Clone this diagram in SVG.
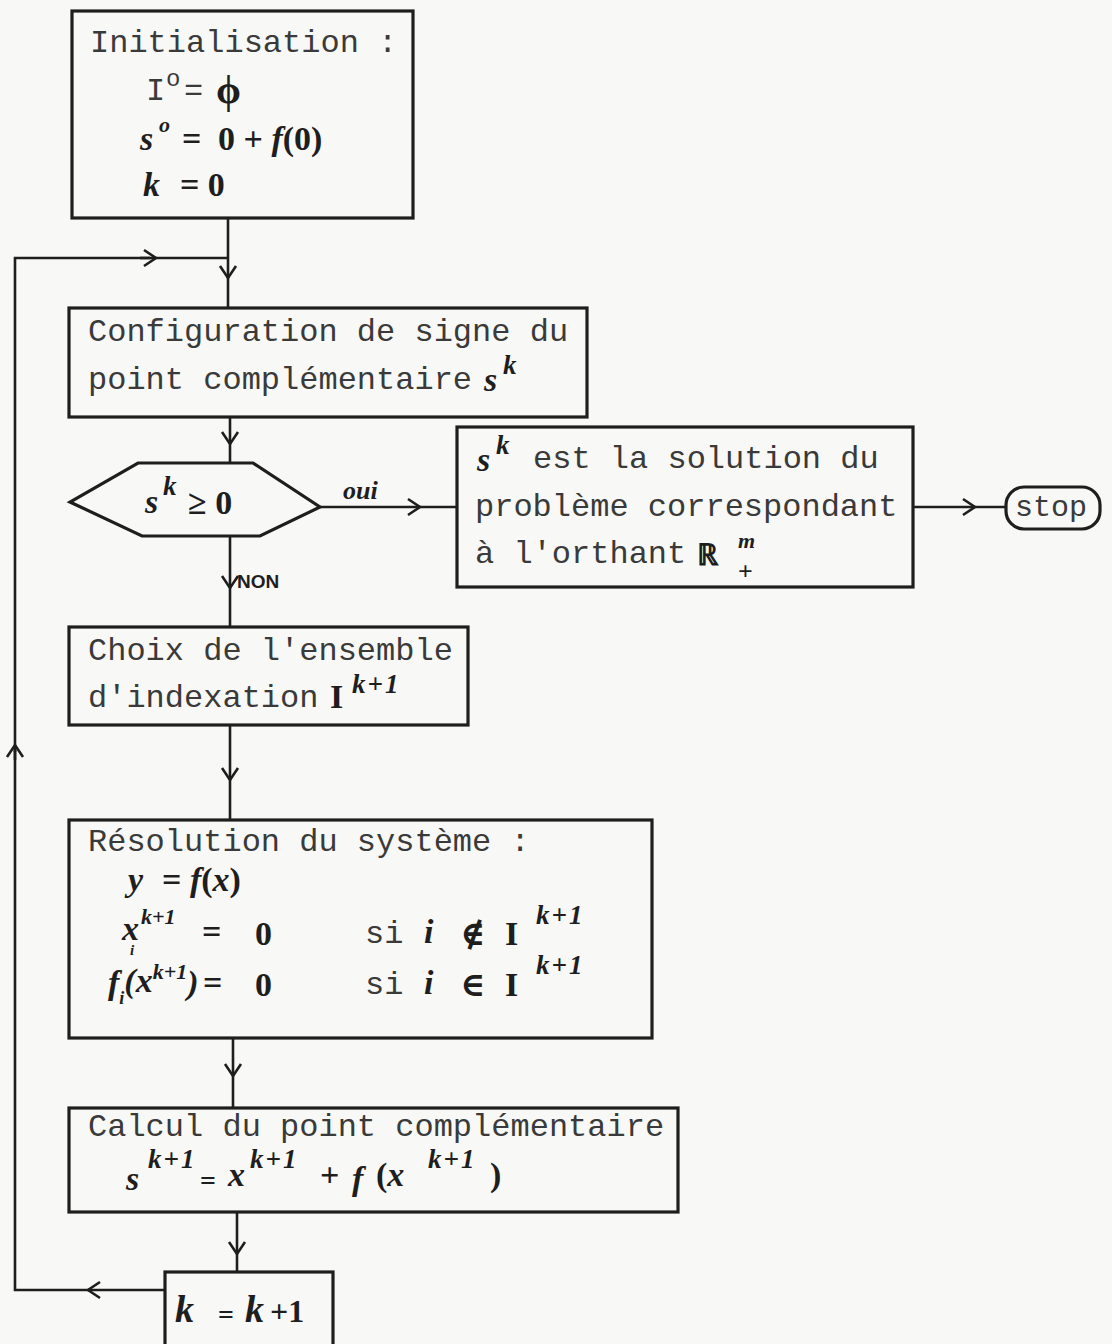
<svg xmlns="http://www.w3.org/2000/svg" width="1112" height="1344" viewBox="0 0 1112 1344">
<defs>
<style>
.box{fill:none;stroke:#1e1e1e;stroke-width:3.2}
.ln{fill:none;stroke:#1e1e1e;stroke-width:2.6}
.tw{font-family:"Liberation Mono","Courier New",monospace;font-size:32px;fill:#3a3a3a}
.hw{font-family:"Liberation Serif","DejaVu Serif",serif;font-style:italic;font-weight:bold;font-size:34px;fill:#1e1e1e}
.hs{font-family:"Liberation Serif","DejaVu Serif",serif;font-style:italic;font-weight:bold;font-size:22px;fill:#1e1e1e}
.hb{font-family:"Liberation Serif","DejaVu Serif",serif;font-style:italic;font-weight:bold;font-size:27px;letter-spacing:2px;fill:#1e1e1e}
.up{font-family:"Liberation Serif","DejaVu Serif",serif;font-weight:bold;font-size:34px;fill:#1e1e1e}
</style>
<marker id="ah" viewBox="0 0 20 20" refX="14" refY="10" markerWidth="20" markerHeight="20" markerUnits="userSpaceOnUse" orient="auto">
<path d="M2,2 L14,10 L2,18" fill="none" stroke="#1e1e1e" stroke-width="2.6"/>
</marker>
</defs>
<rect width="1112" height="1344" fill="#f8f8f6"/>

<g id="connectors">
<line class="ln" x1="228" y1="218" x2="228" y2="278" marker-end="url(#ah)"/>
<line class="ln" x1="228" y1="276" x2="228" y2="308"/>
<line class="ln" x1="230" y1="417" x2="230" y2="444" marker-end="url(#ah)"/>
<line class="ln" x1="230" y1="442" x2="230" y2="463"/>
<line class="ln" x1="320" y1="507" x2="420" y2="507" marker-end="url(#ah)"/>
<line class="ln" x1="418" y1="507" x2="457" y2="507"/>
<line class="ln" x1="230" y1="536" x2="230" y2="588" marker-end="url(#ah)"/>
<line class="ln" x1="230" y1="586" x2="230" y2="627"/>
<line class="ln" x1="913" y1="507" x2="975" y2="507" marker-end="url(#ah)"/>
<line class="ln" x1="973" y1="507" x2="1006" y2="507"/>
<line class="ln" x1="230" y1="725" x2="230" y2="780" marker-end="url(#ah)"/>
<line class="ln" x1="230" y1="778" x2="230" y2="820"/>
<line class="ln" x1="233" y1="1038" x2="233" y2="1076" marker-end="url(#ah)"/>
<line class="ln" x1="233" y1="1074" x2="233" y2="1108"/>
<line class="ln" x1="237" y1="1212" x2="237" y2="1254" marker-end="url(#ah)"/>
<line class="ln" x1="237" y1="1252" x2="237" y2="1272"/>
<line class="ln" x1="165" y1="1290" x2="88" y2="1290" marker-end="url(#ah)"/>
<polyline class="ln" points="90,1290 15,1290 15,750"/>
<line class="ln" x1="15" y1="760" x2="15" y2="745" marker-end="url(#ah)"/>
<polyline class="ln" points="15,752 15,258 150,258"/>
<line class="ln" x1="140" y1="258" x2="156" y2="258" marker-end="url(#ah)"/>
<line class="ln" x1="154" y1="258" x2="228" y2="258"/>
<text x="343" y="499" class="hw" style="font-size:26px">oui</text>
<text x="237" y="588" style="font-family:'Liberation Sans',Arial,sans-serif;font-weight:bold;font-size:19px;fill:#1e1e1e">NON</text>
</g>

<g id="n-init">
<rect class="box" x="72" y="11" width="341" height="207"/>
<text x="90" y="52" class="tw">Initialisation :</text>
<text x="146" y="100" class="tw">I</text>
<text x="166" y="86" class="tw" style="font-size:24px">o</text>
<text x="184" y="100" class="tw">=</text>
<text x="216" y="103" class="up" style="font-size:40px">ϕ</text>
<text x="140" y="150" class="hw">s</text>
<text x="159" y="132" class="hw" style="font-size:22px">o</text>
<text x="182" y="150" class="up">=</text>
<text x="218" y="150" class="up">0 + <tspan class="hw">f</tspan>(0)</text>
<text x="143" y="196" class="hw">k</text>
<text x="180" y="196" class="up">= 0</text>
</g>

<g id="n-config">
<rect class="box" x="69" y="308" width="518" height="109"/>
<text x="88" y="341" class="tw">Configuration de signe du</text>
<text x="88" y="389" class="tw">point complémentaire</text>
<text x="484" y="391" class="hw">s</text>
<text x="503" y="374" class="hb">k</text>
</g>

<g id="n-test">
<polygon class="box" points="138,463 253,463 320,507 260,536 142,536 70,502"/>
<text x="145" y="513" class="hw">s</text>
<text x="163" y="495" class="hb">k</text>
<text x="188" y="514" class="up">≥ 0</text>
</g>

<g id="n-solution">
<rect class="box" x="457" y="427" width="456" height="160"/>
<text x="477" y="471" class="hw">s</text>
<text x="496" y="454" class="hb">k</text>
<text x="533" y="468" class="tw">est la solution du</text>
<text x="475" y="516" class="tw">problème correspondant</text>
<text x="475" y="563" class="tw">à l'orthant</text>
<text x="697" y="565" class="up" style="font-size:30px">ℝ</text>
<text x="738" y="548" class="hs">m</text>
<text x="738" y="580" class="up" style="font-size:26px">+</text>
</g>

<g id="n-stop">
<rect class="box" x="1006" y="487" width="94" height="42" rx="18" ry="18"/>
<text x="1015" y="516" class="tw" style="font-size:30px">stop</text>
</g>

<g id="n-choix">
<rect class="box" x="69" y="627" width="399" height="98"/>
<text x="88" y="660" class="tw">Choix de l'ensemble</text>
<text x="88" y="707" class="tw">d'indexation</text>
<text x="330" y="708" class="up">I</text>
<text x="352" y="693" class="hb">k+1</text>
</g>

<g id="n-resol">
<rect class="box" x="69" y="820" width="583" height="218"/>
<text x="88" y="851" class="tw">Résolution du système :</text>
<text x="128" y="891" class="hw">y</text>
<text x="162" y="891" class="up">= <tspan class="hw">f</tspan>(<tspan class="hw">x</tspan>)</text>
<text x="122" y="940" class="hw">x<tspan class="hs" dx="2" dy="-16">k+1</tspan><tspan class="hs" style="font-size:15px" x="130" dy="31">i</tspan></text>
<text x="202" y="943" class="up">=</text>
<text x="255" y="945" class="up">0</text>
<text x="365" y="943" class="tw">si</text>
<text x="424" y="943" class="hw">i</text>
<text x="460" y="945" class="up">∉</text>
<text x="505" y="945" class="up">I</text>
<text x="536" y="924" class="hb">k+1</text>
<text x="108" y="994" class="hw">f<tspan class="hs" style="font-size:18px" dy="10">i</tspan><tspan class="up" dy="-12">(</tspan><tspan>x</tspan><tspan class="hs" dy="-13">k+1</tspan><tspan class="up" dy="15">)</tspan></text>
<text x="203" y="994" class="up">=</text>
<text x="255" y="996" class="up">0</text>
<text x="365" y="994" class="tw">si</text>
<text x="424" y="994" class="hw">i</text>
<text x="460" y="996" class="up">∈</text>
<text x="505" y="996" class="up">I</text>
<text x="536" y="974" class="hb">k+1</text>
</g>

<g id="n-calcul">
<rect class="box" x="69" y="1108" width="609" height="104"/>
<text x="88" y="1136" class="tw">Calcul du point complémentaire</text>
<text x="126" y="1190" class="hw">s</text>
<text x="148" y="1168" class="hb">k+1</text>
<text x="200" y="1190" class="up" style="font-size:28px">=</text>
<text x="228" y="1186" class="hw">x</text>
<text x="250" y="1168" class="hb">k+1</text>
<text x="320" y="1186" class="up">+</text>
<text x="352" y="1190" class="hw">f</text>
<text x="376" y="1186" class="up">(<tspan class="hw">x</tspan></text>
<text x="428" y="1168" class="hb">k+1</text>
<text x="490" y="1186" class="up">)</text>
</g>

<g id="n-incr">
<rect class="box" x="165" y="1272" width="168" height="80"/>
<text x="175" y="1322" class="hw" style="font-size:38px">k</text>
<text x="218" y="1324" class="up" style="font-size:28px">=</text>
<text x="245" y="1322" class="hw" style="font-size:38px">k</text>
<text x="270" y="1322" class="up" style="font-size:32px">+1</text>
</g>
</svg>
